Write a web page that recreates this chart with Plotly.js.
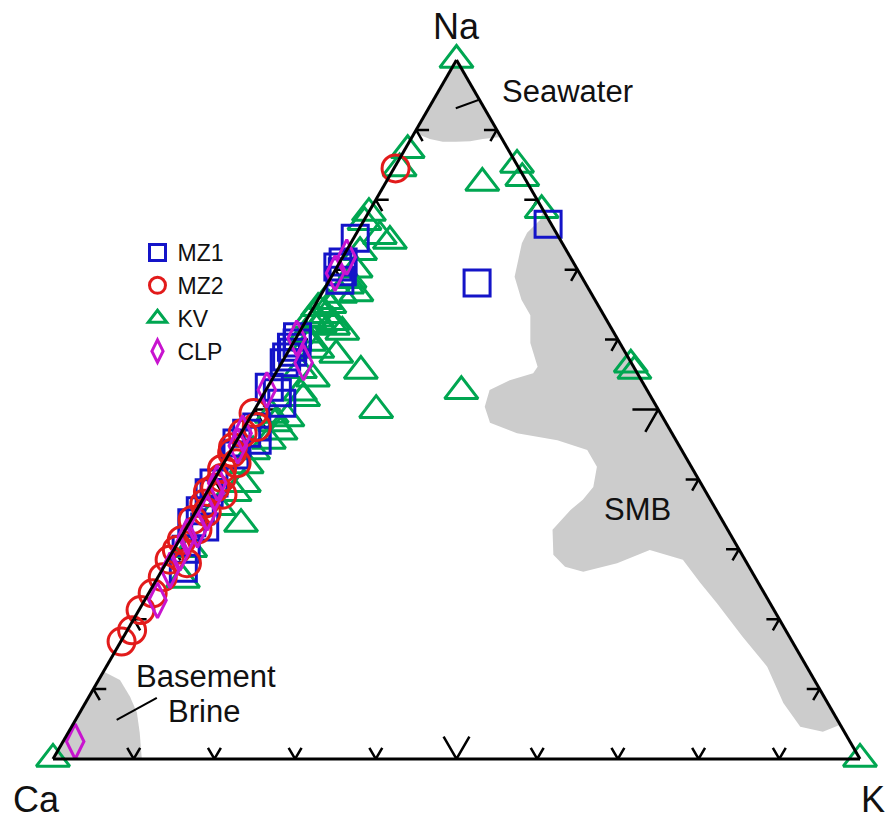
<!DOCTYPE html>
<html>
<head>
<meta charset="utf-8">
<script src="https://cdn.plot.ly/plotly-3.0.1.min.js"></script>
<style>
html,body{margin:0;padding:0;background:#fff;}
#chart{width:887px;height:822px;}
</style>
</head>
<body>
<div id="chart"></div>
<script>
// ---------------- data (percent of Na, K, Ca) ----------------
const seriesNames = ['MZ1', 'MZ2', 'KV', 'CLP'];
const cornerLabels = ['Na', 'Ca', 'K'];
const regionLabels = ['Seawater', 'SMB', 'Basement', 'Brine'];

const mz1Na = [76.5, 68.1, 74.5, 71.1, 70.4, 69.7, 68.5, 60.4, 59.5, 58.9, 58.2, 57.5, 56.7, 53.2, 52.4, 50.9, 47.5, 46.6, 45.6, 45.2, 43.5, 39.5, 38.1, 35.5, 33.8, 33.2, 27.3, 30.0];
const mz1K  = [23.1, 18.5, 0.2, 0.4, 0.1, 1.0, 1.3, 0.1, 0.5, 0.1, 0.6, 0.2, 0.3, 0.2, 1.6, 2.9, 1.5, 0.7, 2.5, 0.2, 0.8, 0.2, 0.3, 0.5, 0.3, 2.2, 2.5, 1.5];
const mz1Ca = [0.4, 13.4, 25.3, 28.5, 29.5, 29.3, 30.2, 39.5, 40.0, 41.0, 41.2, 42.3, 43.0, 46.6, 46.0, 46.2, 51.0, 52.7, 51.9, 54.6, 55.7, 60.3, 61.6, 64.0, 65.9, 64.6, 70.2, 68.5];

const mz2Na = [84.5, 49.5, 47.5, 46.6, 44.6, 43.8, 42.3, 41.5, 40.2, 38.8, 38.2, 37.8, 36.5, 35.3, 34.2, 32.8, 31.3, 29.9, 28.5, 28.0, 26.0, 23.7, 21.3, 18.4, 16.8];
const mz2K  = [0.2, 0.1, 1.5, 0.2, 0.0, 0.3, 1.6, 0.2, 0.8, 0.7, 0.1, 2.1, 0.5, 1.4, 0.2, 1.5, 0.3, 0.4, 0.2, 2.6, 0.6, 0.5, 0.2, 0.6, 0.1];
const mz2Ca = [15.3, 50.4, 51.0, 53.2, 55.4, 55.9, 56.1, 58.3, 59.0, 60.5, 61.7, 60.1, 63.0, 63.3, 65.6, 65.7, 68.4, 69.7, 71.3, 69.4, 73.4, 75.8, 78.5, 81.0, 83.1];

const kvNa = [100, 0, 0, 87.1, 84.5, 82.4, 85.0, 83.1, 78.5, 56.4, 55.5, 52.6, 49.9, 55.5, 57.8, 74.8, 74.1, 78.1, 76.8, 64.5, 63.5, 62.5, 62.1, 61.1, 62.8, 64.9, 66.4, 68.5, 60.7, 66.6, 67.7, 55.6, 54.4, 52.4, 51.6, 48.7, 46.8, 49.2, 39.3, 38.0, 33.6, 25.6, 70.0, 72.5, 44.0, 65.5, 63.0, 61.8, 59.5, 58.5, 48.0, 45.5, 42.0, 36.0, 30.0];
const kvK  = [0, 0, 100, 0.4, 0.7, 12.0, 15.0, 16.6, 21.3, 43.4, 44.3, 24.3, 15.1, 10.4, 6.2, 3.1, 4.7, 0.1, 0.2, 0.6, 2.1, 3.4, 2.0, 5.3, 0.4, 1.8, 2.4, 2.5, 0.9, 4.3, 2.6, 2.8, 5.0, 4.4, 5.2, 4.7, 4.8, 2.5, 4.0, 3.5, 6.5, 3.3, 2.5, 1.8, 2.8, 1.0, 1.2, 3.8, 2.0, 3.5, 3.5, 4.0, 3.0, 2.5, 2.0];
const kvCa = [0, 100, 0, 12.5, 14.8, 5.6, 0.0, 0.3, 0.2, 0.2, 0.2, 23.1, 35.0, 34.1, 36.0, 22.1, 21.2, 21.8, 23.0, 34.9, 34.4, 34.1, 35.9, 33.6, 36.8, 33.3, 31.2, 29.0, 38.4, 29.1, 29.7, 41.6, 40.6, 43.2, 43.2, 46.6, 48.4, 48.3, 56.7, 58.5, 59.9, 71.1, 27.5, 25.7, 53.2, 33.5, 35.8, 34.4, 38.5, 38.0, 48.5, 50.5, 55.0, 61.5, 68.0];

const clpNa = [2.5, 22.7, 27.0, 29.5, 31.8, 32.8, 35.2, 38.1, 39.5, 46.6, 44.8, 52.8, 56.7, 60.2, 69.5, 71.8];
const clpK  = [1.5, 1.6, 1.0, 1.0, 0.7, 1.5, 1.5, 1.0, 0.6, 0.2, 0.5, 0.1, 2.7, 0.1, 0.2, 0.5];
const clpCa = [96.0, 75.7, 72.0, 69.5, 67.5, 65.7, 63.3, 60.9, 59.9, 53.2, 54.7, 47.1, 40.6, 39.7, 30.3, 27.7];

// shaded fields (boundary vertices, percent)
const seaNa = [100, 89.6, 88.7, 88.3, 88.3, 88.4, 88.7, 89.0];
const seaK  = [0, 0, 2.35, 4.15, 5.8, 7.5, 8.9, 11.0];
const seaCa = [0, 10.4, 8.95, 7.55, 5.9, 4.1, 2.4, 0];

const smbNa = [78.5, 77.1, 75.3, 73.8, 69.0, 65.7, 63.5, 59.5, 56.1, 55.2, 54.2, 52.8, 50.4, 48.1, 46.6, 45.6, 44.2, 41.8, 38.9, 37.1, 35.6, 32.8, 29.2, 27.5, 26.8, 28.0, 29.9, 28.5, 25.2, 22.3, 17.5, 13.2, 8.0, 4.6, 3.9, 4.9];
const smbK  = [21.5, 21.8, 21.1, 21.2, 22.7, 25.2, 27.4, 29.4, 32.0, 31.9, 29.5, 27.7, 28.3, 30.1, 34.2, 39.7, 44.1, 46.5, 47.5, 47.1, 46.3, 45.5, 47.4, 49.7, 52.3, 55.9, 59.0, 63.8, 67.6, 71.1, 76.7, 81.9, 86.5, 90.3, 93.45, 95.1];
const smbCa = [0, 1.1, 3.6, 5.0, 8.3, 9.1, 9.1, 11.1, 11.9, 12.9, 16.3, 19.5, 21.3, 21.8, 19.2, 14.7, 11.7, 11.7, 13.6, 15.8, 18.1, 21.7, 23.4, 22.8, 20.9, 16.1, 11.1, 7.7, 7.2, 6.6, 5.8, 4.9, 5.5, 5.1, 2.65, 0];

const brineNa = [0, 12.5, 11.3, 8.9, 6.6, 3.7, 0];
const brineK  = [0, 0, 2.65, 5.1, 7.1, 8.9, 11.0];
const brineCa = [100, 87.5, 86.05, 86.0, 86.3, 87.4, 89.0];

// leader lines from labels to fields
const seaLeaderNa = [93.1, 95.3];
const seaLeaderK  = [3.36, 7.5];
const seaLeaderCa = [3.54, -2.8];
const brineLeaderNa = [5.58, 8.73];
const brineLeaderK  = [5.1, 8.5];
const brineLeaderCa = [89.32, 82.77];

// edge tick positions (percent)
const tickVals = [10, 20, 30, 40, 50, 60, 70, 80, 90];
const majorTick = 50;

// ---------------- styles ----------------
const FONT = '"Liberation Sans", Arial, Helvetica, sans-serif';
const GRAY = '#cccccc';
const colors = {MZ1: '#1414c8', MZ2: '#e21b1b', KV: '#00a651', CLP: '#c814cf'};
const armSmall = 1.6, armBig = 3.2;

function field(a, b, c) {
  return {type: 'scatterternary', mode: 'lines', a: a, b: b, c: c, fill: 'toself',
    fillcolor: GRAY, line: {width: 0, color: GRAY}, showlegend: false, hoverinfo: 'skip', cliponaxis: false};
}
function leader(a, b, c) {
  return {type: 'scatterternary', mode: 'lines', a: a, b: b, c: c,
    line: {width: 2, color: '#000'}, showlegend: false, hoverinfo: 'skip', cliponaxis: false};
}
function chevrons() {
  const a = [], b = [], c = [];
  const p = (na, ca, k) => { a.push(na); b.push(ca); c.push(k); };
  const gap = () => { a.push(null); b.push(null); c.push(null); };
  tickVals.forEach(t => {
    const L = (t === majorTick) ? armBig : armSmall;
    // Ca–Na edge (K = 0)
    p(t, 100 - t - L, L); p(t, 100 - t, 0); p(t - L, 100 - t, L); gap();
    // Na–K edge (Ca = 0)
    p(t, L, 100 - t - L); p(t, 0, 100 - t); p(t - L, L, 100 - t); gap();
    // Ca–K edge (Na = 0), K = t
    p(L, 100 - t, t - L); p(0, 100 - t, t); p(L, 100 - t - L, t); gap();
  });
  return {type: 'scatterternary', mode: 'lines', a: a, b: b, c: c,
    line: {width: 2.5, color: '#000'}, showlegend: false, hoverinfo: 'skip', cliponaxis: false};
}
function series(name, a, b, c, symbol, size, rank) {
  return {type: 'scatterternary', mode: 'markers', name: name, a: a, b: b, c: c,
    marker: {symbol: symbol, size: size, color: colors[name], line: {width: 3, color: colors[name]}},
    cliponaxis: false, legendrank: rank, hoverinfo: 'skip'};
}

const traces = [
  field(seaNa, seaCa, seaK),
  field(smbNa, smbCa, smbK),
  field(brineNa, brineCa, brineK),
  leader(seaLeaderNa, seaLeaderCa, seaLeaderK),
  leader(brineLeaderNa, brineLeaderCa, brineLeaderK),
  chevrons(),
  series('KV', kvNa, kvCa, kvK, 'triangle-up-open', 29, 3),
  series('MZ1', mz1Na, mz1Ca, mz1K, 'square-open', 26, 1),
  series('MZ2', mz2Na, mz2Ca, mz2K, 'circle-open', 27, 2),
  series('CLP', clpNa, clpCa, clpK, 'diamond-tall-open', 25, 4)
];

const axisStyle = {showline: true, linecolor: '#000', linewidth: 3, showgrid: false,
  ticks: '', showticklabels: false, title: {text: ''}, min: 0};

function label(text, x, y, size, xanchor, yanchor) {
  return {text: text, x: x, y: y, xref: 'paper', yref: 'paper', showarrow: false,
    xanchor: xanchor || 'center', yanchor: yanchor || 'middle', font: {size: size, color: '#111', family: FONT}};
}

const layout = {
  width: 887, height: 822,
  margin: {l: 0, r: 0, t: 0, b: 0, pad: 0},
  paper_bgcolor: '#fff',
  font: {family: FONT, color: '#111'},
  ternary: {
    sum: 100,
    domain: {x: [53 / 887, 860 / 887], y: [63 / 822, 762 / 822]},
    bgcolor: 'rgba(0,0,0,0)',
    aaxis: axisStyle, baxis: axisStyle, caxis: axisStyle
  },
  showlegend: true,
  legend: {x: 0.155, y: 0.719, xanchor: 'left', yanchor: 'top', bgcolor: 'rgba(0,0,0,0)',
    font: {size: 23, family: FONT, color: '#111'}, itemwidth: 30},
  annotations: [
    label(cornerLabels[0], 0.5141, 0.9672, 36),
    label(cornerLabels[1], 0.0406, 0.0, 36, 'center', 'bottom'),
    label(cornerLabels[2], 0.9842, 0.0, 36, 'center', 'bottom'),
    label(regionLabels[0], 0.5637, 0.8887, 31, 'left'),
    label(regionLabels[1], 0.7182, 0.3796, 31),
    label(regionLabels[2], 0.2317, 0.1776, 31),
    label(regionLabels[3], 0.2300, 0.1344, 31)
  ]
};

Plotly.newPlot('chart', traces, layout, {displayModeBar: false, staticPlot: true});
</script>
</body>
</html>
